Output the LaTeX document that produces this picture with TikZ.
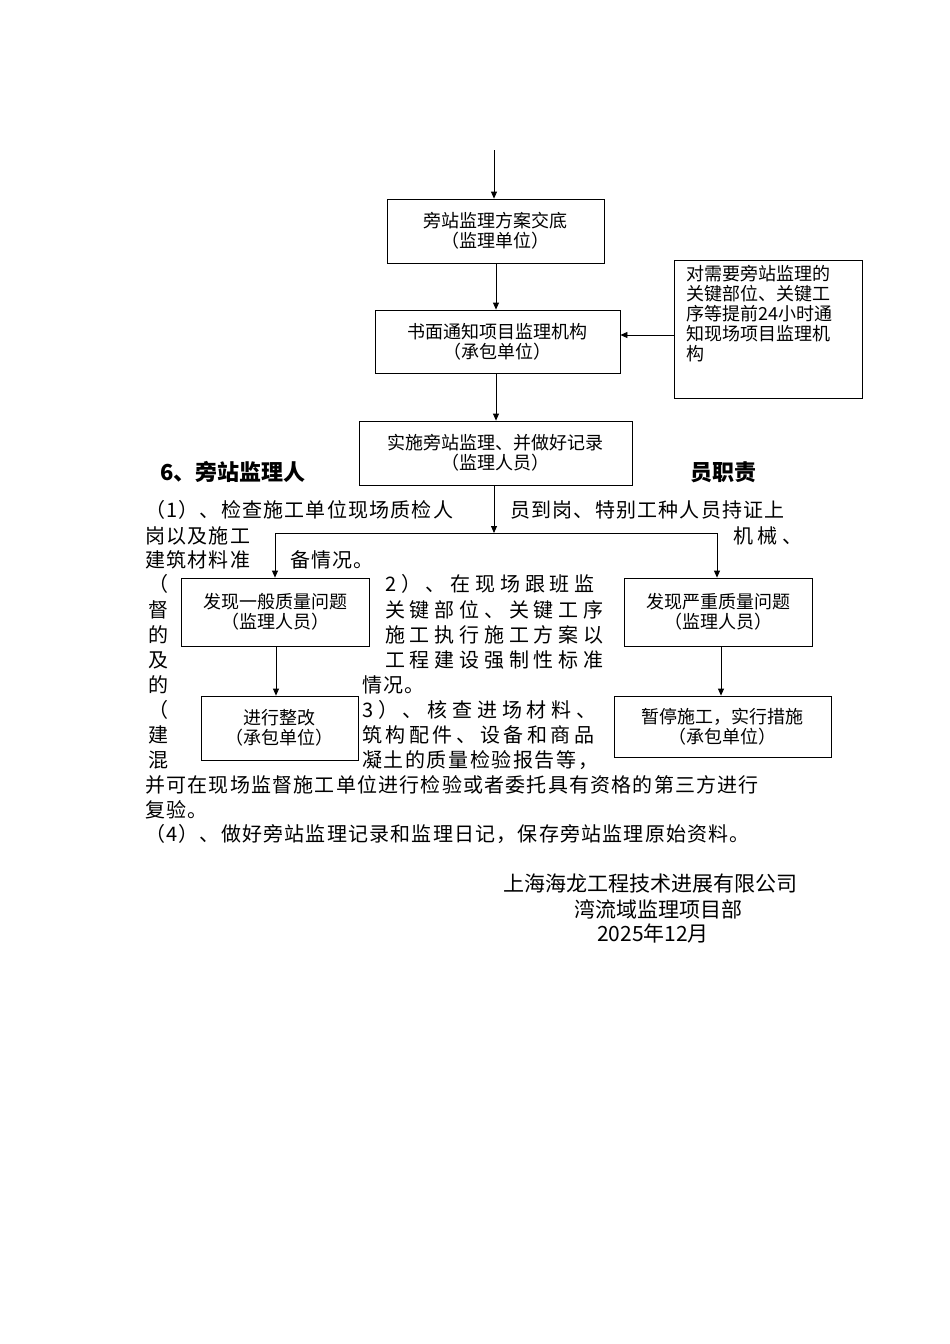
\documentclass[tikz,border=0pt]{standalone}
\usepackage{fontspec}
\setmainfont{Noto Sans CJK SC}
\usetikzlibrary{arrows.meta}
\begin{document}
\begin{tikzpicture}[x=1pt,y=-1pt,
  bx/.style={draw,line width=0.8pt,align=center,font=\fontsize{18}{20}\selectfont},
  ar/.style={-{Triangle[length=7pt,width=6pt]},line width=0.8pt},
  bt/.style={anchor=west,inner sep=0pt,font=\fontsize{20}{22}\selectfont\addfontfeature{LetterSpace=6}},
  wt/.style={bt,font=\fontsize{20}{22}\selectfont\addfontfeature{LetterSpace=24}},
  ft/.style={inner sep=0pt,font=\fontsize{21}{22}\selectfont}]
\useasboundingbox (0,0) rectangle (950,1344);
\node[bx,minimum width=217,minimum height=64] (b1) at (495.5,231) {旁站监理方案交底\\（监理单位）};
\coordinate (top) at (494,150);
\draw[ar] (top) -- (b1.north -| top);
\node[bx,minimum width=245,minimum height=63] (b2) at (497.5,341.5) {书面通知项目监理机构\\（承包单位）};
\node[draw,line width=0.8pt,minimum width=188,minimum height=138,inner sep=0pt] (s) at (768,329) {};
\node[anchor=north west,align=left,inner sep=0pt,font=\fontsize{18}{20}\selectfont] (st) at (686,265) {对需要旁站监理的\\关键部位、关键工\\序等提前24小时通\\知现场项目监理机\\构};
\draw[ar] (s.west |- 0,335) -- (b2.east |- 0,335);
\draw[ar] (b1.south -| 496,0) -- (b2.north -| 496,0);
\node[bx,minimum width=273,minimum height=64] (b3) at (495.5,453) {实施旁站监理、并做好记录\\（监理人员）};
\draw[ar] (b2.south -| 496,0) -- (b3.north -| 496,0);
\coordinate (j) at (494,533);
\draw[ar] (b3.south -| j) -- (j);
\node[bx,minimum width=188,minimum height=68] (b4) at (275,612) {发现一般质量问题\\（监理人员）};
\node[bx,minimum width=188,minimum height=68] (b5) at (718,612) {发现严重质量问题\\（监理人员）};
\coordinate (jl) at (275,533); \coordinate (jr) at (717,533);
\draw[line width=0.8pt] (jl) -- (jr);
\draw[ar] (jl) -- (b4.north -| jl);
\draw[ar] (jr) -- (b5.north -| jr);
\node[bx,minimum width=157,minimum height=64] (b6) at (279.5,728) {进行整改\\（承包单位）};
\node[bx,minimum width=217,minimum height=61] (b7) at (722.5,726.5) {暂停施工，实行措施\\（承包单位）};
\draw[ar] (b4.south -| 276,0) -- (b6.north -| 276,0);
\draw[ar] (b5.south -| 721,0) -- (b7.north -| 721,0);
\node[bt,font=\bfseries\fontsize{22}{22}\selectfont] (h1) at (160,472) {6、旁站监理人};
\node[bt,font=\bfseries\fontsize{22}{22}\selectfont] (h2) at (690,472) {员职责};
\node[bt] (l1a) at (145,510) {（1）、检查施工单位现场质检人};
\node[bt] (l1b) at (510,510) {员到岗、特别工种人员持证上};
\node[bt] (l2a) at (145,536) {岗以及施工};
\node[wt] (l2b) at (733,536) {机械、};
\node[bt] (l3a) at (145,560) {建筑材料准};
\node[bt] (l3b) at (290,560) {备情况。};
\node[bt] (c1) at (148,584) {（};
\node[bt] (c2) at (148,610) {督};
\node[bt] (c3) at (148,635) {的};
\node[bt] (c4) at (148,660) {及};
\node[bt] (c5) at (148,685) {的};
\node[bt] (c6) at (148,710) {（};
\node[bt] (c7) at (148,735) {建};
\node[bt] (c8) at (148,760) {混};
\node[wt] (m1) at (385,584) {2）、在现场跟班监};
\node[wt] (m2) at (385,610) {关键部位、关键工序};
\node[wt] (m3) at (385,635) {施工执行施工方案以};
\node[wt] (m4) at (385,660) {工程建设强制性标准};
\node[bt] (m5) at (362,685) {情况。};
\node[wt] (m6) at (362,710) {3）、核查进场材料、};
\node[bt,font=\fontsize{20}{22}\selectfont\addfontfeature{LetterSpace=18}] (m7) at (362,735) {筑构配件、设备和商品};
\node[bt,font=\fontsize{20}{22}\selectfont\addfontfeature{LetterSpace=8}] (m8) at (362,760) {凝土的质量检验报告等，};
\node[bt] (p1) at (145,785) {并可在现场监督施工单位进行检验或者委托具有资格的第三方进行};
\node[bt] (p2) at (145,810) {复验。};
\node[bt] (p3) at (145,834) {（4）、做好旁站监理记录和监理日记，保存旁站监理原始资料。};
\node[ft] (f1) at (650,884) {上海海龙工程技术进展有限公司};
\node[ft] (f2) at (658,909) {湾流域监理项目部};
\node[ft] (f3) at (653,933) {2025年12月};
\end{tikzpicture}
\end{document}
